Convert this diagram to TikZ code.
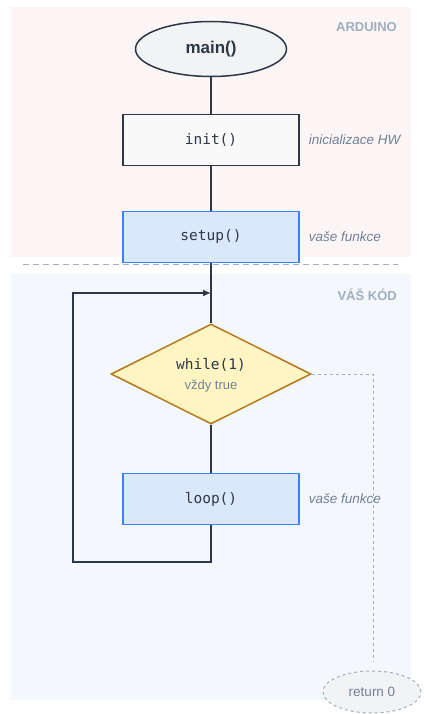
\documentclass[tikz,border=0pt]{standalone}
\usepackage{fontspec}
\setmainfont{Liberation Sans}
\newfontfamily\codefont{DejaVu Sans Mono}
\usepackage{xcolor}
\usetikzlibrary{positioning,arrows.meta,shapes.geometric}
\definecolor{ink}{HTML}{2D3748}
\definecolor{muted}{HTML}{718096}
\definecolor{faint}{HTML}{A0AEC0}
\definecolor{hwbg}{HTML}{FCF5F5}
\definecolor{userbg}{HTML}{F4F8FD}
\definecolor{userfill}{HTML}{DBE8FC}
\definecolor{userline}{HTML}{3B82F6}
\definecolor{condfill}{HTML}{FEF5C3}
\definecolor{condline}{HTML}{B7791F}
\tikzset{%
panel/.style={fill=#1,draw=none},
code/.style={font=\codefont\fontsize{14.5}{17}\selectfont,text=ink},
startstop/.style={ellipse,draw=ink,line width=1.5pt,fill=ink!6,minimum width=151pt,minimum height=55pt,font=\bfseries\fontsize{17}{20}\selectfont,text=ink},
hwstep/.style={rectangle,draw=ink,line width=1.5pt,fill=ink!3,minimum width=176pt,minimum height=51pt,code},
userstep/.style={hwstep,draw=userline,fill=userfill},
cond/.style={diamond,aspect=2,draw=condline,line width=1.5pt,fill=condfill,minimum width=200pt,minimum height=100pt,inner sep=0pt},
exitnode/.style={ellipse,draw=faint,dashed,line width=1pt,fill=ink!6,minimum width=98pt,minimum height=42pt,font=\fontsize{13.5}{16}\selectfont,text=muted},
sidenote/.style={font=\itshape\fontsize{13.5}{16}\selectfont,text=muted,inner sep=0pt,right=9pt of #1},
zonelabel/.style={font=\bfseries\fontsize{13}{16}\selectfont,text=faint,anchor=east,inner sep=0pt},
flow/.style={draw=ink,line width=1.5pt},
flowback/.style={flow,-{Latex[length=8pt,width=7pt]}},
exitflow/.style={draw=faint,dashed,line width=1pt}
}
\begin{document}
\begin{tikzpicture}[x=1pt,y=-1pt]
  \useasboundingbox (0,0) rectangle (423,714);

  % zones
  \fill[panel=hwbg] (11,7) rectangle (411,257);
  \fill[panel=userbg] (11,274) rectangle (411,700);
  \draw[faint,line width=1pt,dash pattern=on 6pt off 4pt] (23,264) -- (398,264);
  \node[zonelabel] (hwzone) at (397,27) {ARDUINO};
  \node[zonelabel] (userzone) at (397,295) {VÁŠ KÓD};

  % steps
  \node[startstop] (main) at (211,49) {main()};
  \node[hwstep] (init) at (211,140) {init()};
  \node[userstep] (setup) at (211,237) {setup()};
  \node[cond] (while) at (211,374) {};
  \node[code] (whiletxt) at (211,365) {while(1)};
  \node[font=\fontsize{13}{16}\selectfont,text=muted] (whilenote) at (211,386) {vždy true};
  \node[userstep] (loop) at (211,499) {loop()};
  \node[exitnode] (ret) at (372,692) {return 0};

  \node[sidenote=init] (initnote) {inicializace HW};
  \node[sidenote=setup] (setupnote) {vaše funkce};
  \node[sidenote=loop] (loopnote) {vaše funkce};

  % connectors
  \coordinate (back) at (211,293);
  \coordinate (loopcorner) at (73,562);
  \coordinate (retend) at (373,662);
  \draw[flow] (main) -- (init);
  \draw[flow] (init) -- (setup);
  \draw[flow] (setup) -- (while);
  \draw[flow] (while) -- (loop);
  \draw[flowback] (loop.south) |- (loopcorner) |- (back);
  \draw[exitflow] (while.east) -| (retend);
\end{tikzpicture}
\end{document}
